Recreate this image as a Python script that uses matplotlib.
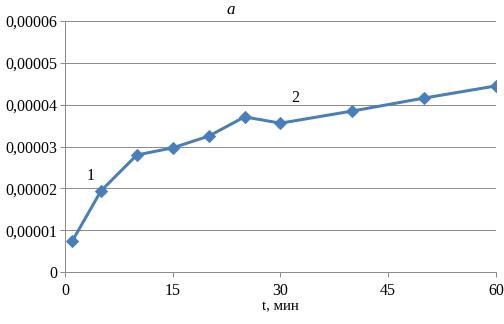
import matplotlib
matplotlib.use("Agg")
import matplotlib.pyplot as plt
from matplotlib.ticker import FuncFormatter

t = [1, 5, 10, 15, 20, 25, 30, 40, 50, 60]
values = [0.74e-5, 1.94e-5, 2.80e-5, 2.97e-5, 3.25e-5, 3.71e-5, 3.56e-5, 3.85e-5, 4.16e-5, 4.45e-5]
xticks = [0, 15, 30, 45, 60]
yticks = [0, 1e-5, 2e-5, 3e-5, 4e-5, 5e-5, 6e-5]

plt.rcParams['font.family'] = ['Liberation Serif', 'DejaVu Serif']

fig = plt.figure(figsize=(7, 4.5), dpi=72)
ax = fig.add_axes([0.129, 0.160, 0.855, 0.775])
ax.plot(t, values, color='#4A7EBB', lw=3.0, marker='D', markersize=8, zorder=3)
ax.set_xlim(0, 60)
ax.set_ylim(0, 6e-5)
ax.set_xticks(xticks)
ax.set_yticks(yticks)

def yfmt(v, pos):
    if abs(v) < 1e-12:
        return "0"
    return ("%.5f" % v).replace('.', ',')

ax.yaxis.set_major_formatter(FuncFormatter(yfmt))
ax.grid(axis='y', color='#8c8c8c', lw=1.0)
ax.grid(axis='x', visible=False)
for s in ['top', 'right']:
    ax.spines[s].set_visible(False)
for s in ['left', 'bottom']:
    ax.spines[s].set_color('#8c8c8c')
    ax.spines[s].set_linewidth(1.0)
ax.tick_params(axis='both', colors='#8c8c8c', labelcolor='black', labelsize=16, length=5, width=1)
ax.tick_params(axis='y', pad=3)
ax.tick_params(axis='x', pad=6)
ax.set_xlabel('t, мин', fontsize=15, labelpad=1)
ax.text(3.5, 2.3e-5, '1', fontsize=16, ha='center', va='center')
ax.text(32, 4.15e-5, '2', fontsize=16, ha='center', va='center')
fig.text(0.458, 0.995, 'a', fontsize=17, style='italic', ha='center', va='top')
fig.savefig('out.png', dpi=72)
